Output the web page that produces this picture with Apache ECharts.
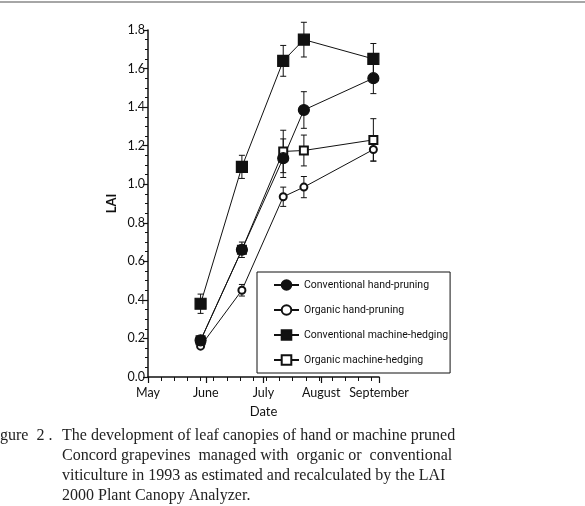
<!DOCTYPE html>
<html>
<head>
<meta charset="utf-8">
<script src="https://cdn.jsdelivr.net/npm/echarts@6/dist/echarts.min.js"></script>
<style>
  html, body { margin: 0; padding: 0; background: #fff; }
  #chart { width: 585px; height: 506px; }
</style>
</head>
<body>
<div id="chart"></div>
<script>
// sampling dates (1993) and LAI means / error half-widths
const dates = ['1993-05-29', '1993-06-20', '1993-07-12', '1993-07-23', '1993-08-29'];
const monthLabels = ['May', 'June', 'July', 'August', 'September'];

const convHand = [0.19, 0.66, 1.135, 1.385, 1.55];
const convHandErr = [0.02, 0.04, 0.10, 0.095, 0.08];
const orgHand = [0.16, 0.45, 0.935, 0.985, 1.18];
const orgHandErr = [0.01, 0.03, 0.05, 0.055, 0.06];
const convMach = [0.38, 1.09, 1.64, 1.75, 1.65];
const convMachErr = [0.05, 0.06, 0.08, 0.09, 0.08];
const orgMach = [0.19, 0.66, 1.17, 1.175, 1.23];
const orgMachErr = [0.01, 0.02, 0.11, 0.08, 0.11];

const captionLines = [
    'The development of leaf canopies of hand or machine pruned',
    'Concord grapevines  managed with  organic or  conventional',
    'viticulture in 1993 as estimated and recalculated by the LAI',
    '2000 Plant Canopy Analyzer.'
];

document.addEventListener('DOMContentLoaded', function() {

    // x axis runs in days counted from May 1st
    const start = Date.UTC(1993, 4, 1);
    const days = dates.map(d => (Date.parse(d + 'T00:00:00Z') - start) / 86400000);
    const monthStep = 30.75; // May 1 .. Sep 1 = 123 days

    const pts = vals => vals.map((v, i) => [days[i], v]);
    const bars = (vals, errs) => vals.map((v, i) => [days[i], v - errs[i], v + errs[i]]);

    const errorSeries = (name, vals, errs) => ({
        name: name + ' err',
        type: 'custom',
        data: bars(vals, errs),
        z: 1,
        silent: true,
        renderItem: (params, api) => {
            const lo = api.coord([api.value(0), api.value(1)]);
            const hi = api.coord([api.value(0), api.value(2)]);
            const w = 3;
            const style = { stroke: '#111', lineWidth: 1 };
            return {
                type: 'group',
                children: [
                    { type: 'line', shape: { x1: lo[0], y1: lo[1], x2: hi[0], y2: hi[1] }, style: style },
                    { type: 'line', shape: { x1: lo[0] - w, y1: lo[1], x2: lo[0] + w, y2: lo[1] }, style: style },
                    { type: 'line', shape: { x1: hi[0] - w, y1: hi[1], x2: hi[0] + w, y2: hi[1] }, style: style }
                ]
            };
        }
    });

    const lineSeries = (name, vals, symbol, size) => ({
        name: name,
        type: 'line',
        data: pts(vals),
        symbol: symbol,
        symbolSize: size,
        showAllSymbol: true,
        z: 3,
        lineStyle: { color: '#111', width: 1 },
        itemStyle: { color: '#111', borderColor: '#111', borderWidth: 1.2 }
    });

    const chart = echarts.init(document.getElementById('chart'));

    chart.setOption({
        animation: false,
        backgroundColor: '#fff',
        textStyle: { fontFamily: 'Lato, "Open Sans", sans-serif' },
        grid: { left: 148, right: 206, top: 30, bottom: 129 },
        xAxis: [{
            type: 'value',
            min: 0,
            max: 123,
            interval: monthStep,
            name: 'Date',
            nameLocation: 'middle',
            nameGap: 28,
            nameTextStyle: { fontSize: 13, color: '#111', fontFamily: 'Lato, sans-serif' },
            axisLine: { lineStyle: { color: '#111', width: 1.5 } },
            axisTick: { length: 6, lineStyle: { color: '#111', width: 1.2 } },
            axisLabel: {
                margin: 9,
                fontSize: 12.5,
                color: '#111',
                showMinLabel: true,
                showMaxLabel: true,
                formatter: v => monthLabels[Math.round(v / monthStep)]
            },
            splitLine: { show: false }
        }, {
            // weekly minor ticks
            type: 'value',
            position: 'bottom',
            min: 0,
            max: 123,
            interval: 7,
            axisLine: { show: false },
            axisTick: { length: 4, lineStyle: { color: '#111', width: 1 } },
            axisLabel: { show: false },
            splitLine: { show: false }
        }],
        yAxis: {
            type: 'value',
            min: 0,
            max: 1.8,
            interval: 0.2,
            name: 'LAI',
            nameLocation: 'middle',
            nameGap: 30,
            nameTextStyle: { fontSize: 13, color: '#111', fontWeight: 'bold', fontFamily: 'Lato, sans-serif' },
            axisLine: { show: true, lineStyle: { color: '#111', width: 1.5 } },
            axisTick: { show: true, length: 5, lineStyle: { color: '#111', width: 1.2 } },
            minorTick: { show: true, splitNumber: 4, length: 3, lineStyle: { color: '#111', width: 1 } },
            axisLabel: { margin: 3, fontSize: 12.5, color: '#111', formatter: v => v.toFixed(1) },
            splitLine: { show: false }
        },
        legend: {
            orient: 'vertical',
            left: 257,
            top: 272,
            padding: [6, 2, 6, 16],
            itemGap: 11,
            itemWidth: 25,
            itemHeight: 12,
            borderColor: '#111',
            borderWidth: 1,
            backgroundColor: '#fff',
            data: ['Conventional hand-pruning', 'Organic hand-pruning',
                'Conventional machine-hedging', 'Organic machine-hedging'],
            textStyle: {
                fontSize: 10.5,
                color: '#111',
                lineHeight: 14,
                fontFamily: 'Roboto, "Liberation Sans Narrow", sans-serif'
            }
        },
        graphic: [
            { type: 'line', shape: { x1: 0, y1: 2, x2: 585, y2: 2 }, style: { stroke: '#888', lineWidth: 1.5 } },
            { type: 'text', left: 0, top: 428, style: { text: 'gure  2 .', font: '16px "Liberation Serif", serif', fill: '#222' } }
        ].concat(captionLines.map((t, i) => ({
            type: 'text',
            left: 62,
            top: 428 + i * 20,
            style: { text: t, font: '16px "Liberation Serif", serif', fill: '#222' }
        }))),
        series: [
            errorSeries('Conventional hand-pruning', convHand, convHandErr),
            errorSeries('Organic hand-pruning', orgHand, orgHandErr),
            errorSeries('Conventional machine-hedging', convMach, convMachErr),
            errorSeries('Organic machine-hedging', orgMach, orgMachErr),
            lineSeries('Organic machine-hedging', orgMach, 'emptyRect', 8),
            lineSeries('Organic hand-pruning', orgHand, 'emptyCircle', 7),
            lineSeries('Conventional hand-pruning', convHand, 'circle', 11),
            lineSeries('Conventional machine-hedging', convMach, 'rect', 11)
        ]
    });

});
</script>
</body>
</html>
